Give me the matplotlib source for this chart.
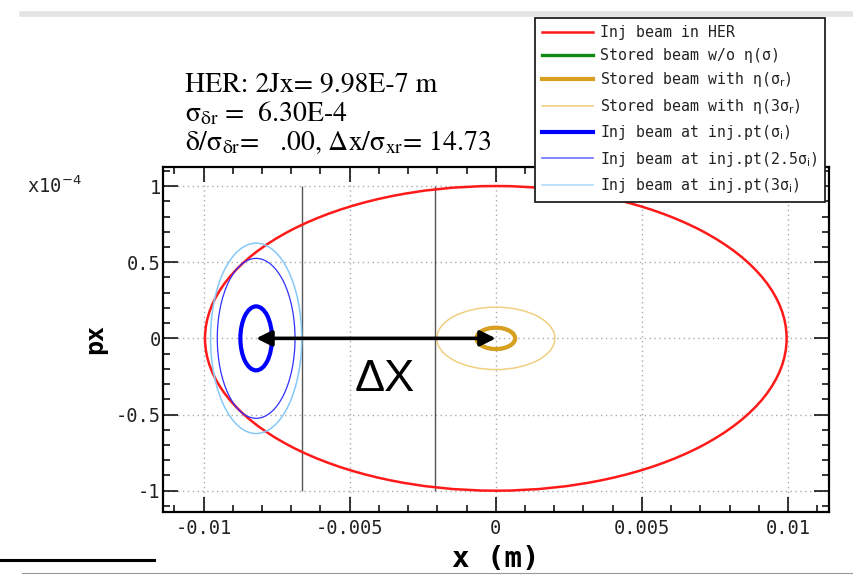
import matplotlib
matplotlib.use('Agg')
import matplotlib.pyplot as plt
from matplotlib.patches import Ellipse
from matplotlib.lines import Line2D
from matplotlib.font_manager import FontProperties
from matplotlib.ticker import MultipleLocator, FuncFormatter

# beam ellipses in (x, px) phase space
beam_labels = ['Inj beam in HER',
               'Stored beam w/o η(σ)',
               'Stored beam with η(σ$_\\mathrm{r}$)',
               'Stored beam with η(3σ$_\\mathrm{r}$)',
               'Inj beam at inj.pt(σ$_\\mathrm{i}$)',
               'Inj beam at inj.pt(2.5σ$_\\mathrm{i}$)',
               'Inj beam at inj.pt(3σ$_\\mathrm{i}$)']
center_x = [0.0, 0.0, 0.0, 0.0, -0.0082, -0.0082, -0.0082]
center_px = [0.0, 0.0, 0.0, 0.0, 0.0, 0.0, 0.0]
half_x = [0.00995, 0.00066, 0.00066, 0.00202, 0.00054, 0.00133, 0.00156]
half_px = [1.0e-4, 0.07e-4, 0.07e-4, 0.205e-4, 0.21e-4, 0.525e-4, 0.625e-4]
colors = ['#ff1a1a', '#108a10', '#d9a020', '#f0d080', '#0000ff', '#3030ff', '#86c8f8']
widths = [1.8, 2.4, 3.0, 1.1, 3.0, 0.9, 1.1]
legend_colors = ['#ff1a1a', '#108a10', '#d9a020', '#f0d080', '#0000ff', '#7070ff', '#b0dcfa']

# aperture lines
aperture_x = [-0.00664, -0.00207]
aperture_px = [-1.0e-4, 1.0e-4]

# offset between injected and stored beam
arrow_from = (-0.0082, 0.0)
arrow_to = (0.0, 0.0)

x_ticks = [-0.01, -0.005, 0, 0.005, 0.01]
px_ticks = [-1e-4, -0.5e-4, 0, 0.5e-4, 1e-4]

fig = plt.figure(figsize=(8.54, 5.76), dpi=100)
ax = fig.add_axes([163.5 / 854, 1 - 512 / 576, (829 - 163.5) / 854, (512 - 167) / 576])

order = [0, 1, 3, 2, 5, 6, 4]
for i in order:
    e = Ellipse((center_x[i], center_px[i]), 2 * half_x[i], 2 * half_px[i],
                fill=False, edgecolor=colors[i], lw=widths[i], zorder=3 + (i != 1))
    ax.add_patch(e)

ax.vlines(aperture_x, aperture_px[0], aperture_px[1], color='#555555', lw=1.0, zorder=2)

ax.annotate('', xy=arrow_to, xytext=arrow_from,
            arrowprops=dict(arrowstyle='<|-|>', lw=2.6, color='black',
                            mutation_scale=23, shrinkA=0, shrinkB=0), zorder=6)
ax.text(-0.0038, -0.27e-4, 'ΔX', fontsize=32.5, family='Liberation Sans',
        ha='center', va='center', zorder=6)

ax.set_xlim(-0.01137, 0.0114)
ax.set_ylim(-1.14e-4, 1.125e-4)
ax.set_xticks(x_ticks)
ax.set_yticks(px_ticks)
ax.xaxis.set_minor_locator(MultipleLocator(0.001))
ax.yaxis.set_minor_locator(MultipleLocator(0.1e-4))
ax.xaxis.set_major_formatter(FuncFormatter(lambda v, p: '%g' % round(v, 6)))
ax.yaxis.set_major_formatter(FuncFormatter(lambda v, p: '%g' % round(v * 1e4, 6)))
ax.tick_params(which='both', direction='in', top=True, right=True)
ax.tick_params(which='major', length=11, width=1.1)
ax.tick_params(which='minor', length=5, width=1.1)
ax.tick_params(axis='y', pad=2)
ax.tick_params(axis='x', pad=5)
for lab in ax.get_xticklabels() + ax.get_yticklabels():
    lab.set_fontfamily('DejaVu Sans Mono')
    lab.set_fontsize(13.5)
    lab.set_color('#222222')
for s in ax.spines.values():
    s.set_linewidth(1.6)
ax.grid(True, which='major', color='#aaaaaa', lw=1.0, linestyle=(0, (1, 2.5)))
ax.set_axisbelow(True)

ax.set_xlabel('x (m)', family='DejaVu Sans Mono', weight='bold', fontsize=21, labelpad=5)
ax.set_ylabel('px', family='DejaVu Sans Mono', weight='bold', fontsize=18, labelpad=6)
fig.text(27 / 854, 1 - 186 / 576, 'x10$^{-4}$', family='DejaVu Sans Mono', fontsize=13.5,
         va='center', ha='left', math_fontfamily='dejavusans', color='#222222')

# parameter block
tp = dict(family='STIXGeneral', fontsize=20, math_fontfamily='stix', va='baseline', ha='left')
fig.text(185 / 854, 1 - 91 / 576, 'HER: 2Jx= 9.98E-7 m', **tp)
fig.text(185 / 854, 1 - 121 / 576, 'σ$_{\\mathrm{δr}}$ =  6.30E-4', **tp)
fig.text(185 / 854, 1 - 150 / 576,
         'δ/σ$_{\\mathrm{δr}}$=   .00, Δx/σ$_{\\mathrm{xr}}$= 14.73', **tp)

handles = [Line2D([], [], color=legend_colors[i], lw=max(widths[i], 1.2)) for i in range(7)]
leg = fig.legend(handles, beam_labels, loc='upper right',
                 bbox_to_anchor=(825 / 854, 1 - 18 / 576), borderaxespad=0,
                 prop=FontProperties(family='DejaVu Sans Mono', size=10.7,
                                     math_fontfamily='dejavusans'),
                 handlelength=3.4, handletextpad=0.5, labelspacing=0.5,
                 borderpad=0.5, fancybox=False, framealpha=1)
leg.get_frame().set_edgecolor('#222222')
leg.get_frame().set_linewidth(1.3)
leg.set_zorder(10)
for t in leg.get_texts():
    t.set_color('#222222')

# page decorations
fig.add_artist(Line2D([22 / 854, 1], [1 - 14 / 576] * 2, color='#e4e4e4', lw=4))
fig.add_artist(Line2D([0, 154 / 854], [1 - 560 / 576] * 2, color='black', lw=2.2))
fig.add_artist(Line2D([22 / 854, 1], [1 - 573 / 576] * 2, color='#999999', lw=0.8))

fig.savefig('out.png', dpi=100)
